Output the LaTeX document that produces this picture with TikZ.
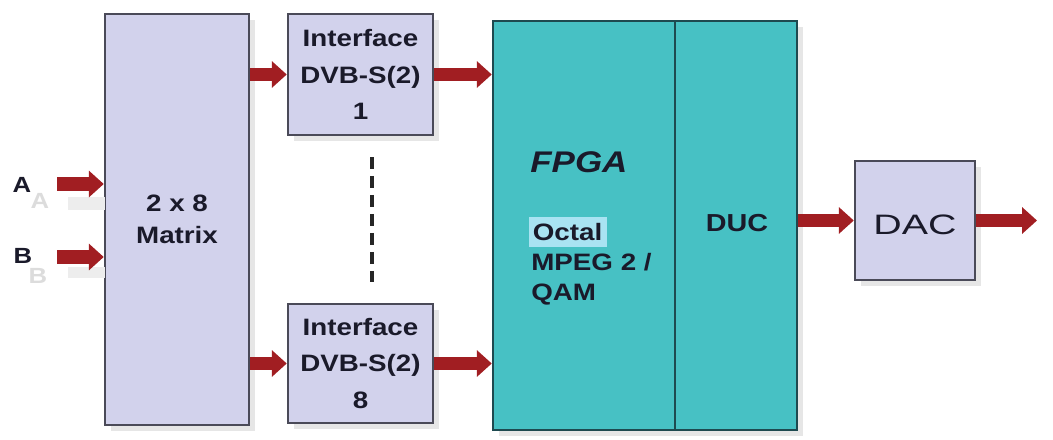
\documentclass[tikz,border=0pt]{standalone}
\usepackage{fontspec}
\setmainfont{Liberation Sans}[FakeStretch=1.17]
\newfontfamily\dacfont{Liberation Sans}[FakeStretch=1.4]
\usetikzlibrary{arrows.meta,shadows}
\definecolor{lav}{HTML}{D2D2EC}
\definecolor{lavborder}{HTML}{4A4A58}
\definecolor{tealfill}{HTML}{47C1C4}
\definecolor{tealborder}{HTML}{1E4A50}
\definecolor{arrowred}{HTML}{A11E22}
\definecolor{hl}{HTML}{A9E3F2}
\definecolor{txt}{HTML}{1A1A2A}
\definecolor{ghost}{HTML}{DCDCDC}
\definecolor{refl}{HTML}{EDEDED}
\begin{document}
\begin{tikzpicture}[x=0.02cm,y=-0.02cm,
  shadowed/.style={drop shadow={shadow xshift=0.12cm, shadow yshift=-0.12cm, fill=black!45, opacity=0.22}},
  lbox/.style={draw=lavborder, line width=0.05cm, fill=lav, inner sep=0pt, text=txt, align=center, shadowed},
  tbox/.style={draw=tealborder, line width=0.05cm, fill=tealfill, inner sep=0pt, text=txt, align=center},
  sig/.style={arrowred, line width=0.27cm, -{Triangle[length=0.3cm,width=0.52cm]}},
  boldtext/.style={font=\fontsize{13.5}{21}\selectfont\bfseries},
  plain/.style={inner sep=0pt, text=txt}
]
\useasboundingbox (0,0) rectangle (1053,439);

% boxes
\node[lbox, minimum width=2.88cm, minimum height=8.22cm, font=\fontsize{13.5}{18.5}\selectfont\bfseries] (mx) at (177,219.5) {2 x 8\\Matrix};
\node[lbox, boldtext, minimum width=2.9cm, minimum height=2.42cm] (i1) at (360.5,74.5) {Interface\\DVB-S(2)\\1};
\node[lbox, boldtext, minimum width=2.9cm, minimum height=2.38cm] (i8) at (360.5,363.5) {Interface\\DVB-S(2)\\8};
\path[shadowed] (493,21) rectangle (797,430);
\node[tbox, minimum width=3.64cm, minimum height=8.18cm] (fp) at (584,225.5) {};
\node[tbox, minimum width=2.44cm, minimum height=8.18cm] (duc) at (736,225.5) {};
\node[lbox, minimum width=2.4cm, minimum height=2.38cm] (dac) at (915,220.5) {};

% box labels
\node[plain, font=\fontsize{14}{16}\selectfont\bfseries] (ducl) at (737,223) {DUC};
\node[plain, font=\fontsize{16}{18}\dacfont] (dacl) at (915,225) {DAC};

% FPGA texts
\node[plain, anchor=base west, font=\fontsize{17}{20}\selectfont\bfseries\itshape] (fpl) at (530,172) {FPGA};
\node[fill=hl, inner sep=0pt, text width=1.56cm, minimum height=0.6cm, align=left, anchor=west, text=txt, font=\fontsize{13.5}{16}\selectfont\bfseries] (oct) at (529,232) {\hspace*{2pt}Octal};
\node[plain, anchor=base west, font=\fontsize{13.5}{16}\selectfont\bfseries] (mpeg) at (531,270) {MPEG 2 /};
\node[plain, anchor=base west, font=\fontsize{13.5}{16}\selectfont\bfseries] (qam) at (531,300) {QAM};

% input labels and reflections
\fill[refl] (68,197) rectangle (105,210);
\fill[refl] (68,267) rectangle (105,278);
\node[plain, text=ghost, font=\fontsize{12.5}{14}\selectfont\bfseries] (ag) at (40,201) {A};
\node[plain, text=ghost, font=\fontsize{12.5}{14}\selectfont\bfseries] (bg) at (38,276) {B};
\node[plain, font=\fontsize{12.5}{14}\selectfont\bfseries] (la) at (22,185) {A};
\node[plain, font=\fontsize{12.5}{14}\selectfont\bfseries] (lb) at (23,256) {B};

% coordinates for free ends
\coordinate (ain) at (57,184);
\coordinate (bin) at (57,257);
\coordinate (dout) at (1037,220.5);
\coordinate (dtop) at (372,157);
\coordinate (dbot) at (372,282);

% arrows
\draw[sig] (ain) -- (ain -| mx.west);
\draw[sig] (bin) -- (bin -| mx.west);
\draw[sig] (mx.east |- i1.west) -- (i1.west);
\draw[sig] (mx.east |- i8.west) -- (i8.west);
\draw[sig] (i1.east) -- (i1.east -| fp.west);
\draw[sig] (i8.east) -- (i8.east -| fp.west);
\draw[sig] (duc.east |- dac.west) -- (dac.west);
\draw[sig] (dac.east) -- (dout);

% dashed separator
\draw[black!85, line width=0.09cm, dash pattern=on 0.24cm off 0.14cm] (dtop) -- (dbot);
\end{tikzpicture}
\end{document}
